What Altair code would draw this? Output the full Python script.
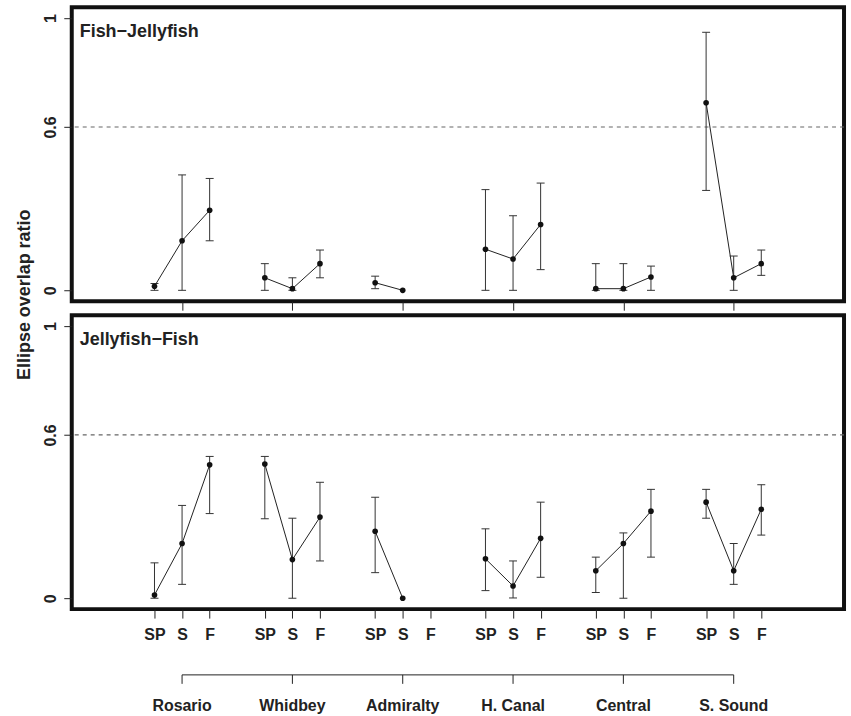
import altair as alt
import pandas as pd

# ---- data ----
REGIONS = ["Rosario", "Whidbey", "Admiralty", "H. Canal", "Central", "S. Sound"]
SEASONS = ["SP", "S", "F"]

# Fish-Jellyfish (top panel): mean, lower, upper per region x season (SP, S, F)
FJ_MEAN = [0.015, 0.182, 0.294,  0.046, 0.006, 0.098,  0.028, 0.0, None,
           0.151, 0.115, 0.242,  0.006, 0.006, 0.049,  0.689, 0.046, 0.098]
FJ_LO   = [0.0, 0.0, 0.182,      0.0, 0.0, 0.046,      0.006, None, None,
           0.0, 0.0, 0.076,      0.0, 0.0, 0.0,        0.367, 0.0, 0.055]
FJ_HI   = [0.025, 0.424, 0.411,  0.098, 0.046, 0.148,  0.052, None, None,
           0.370, 0.274, 0.394,  0.098, 0.098, 0.089,  0.948, 0.126, 0.148]

# Jellyfish-Fish (bottom panel)
JF_MEAN = [0.012, 0.201, 0.490,  0.493, 0.142, 0.298,  0.246, 0.0, None,
           0.145, 0.045, 0.220,  0.101, 0.201, 0.320,  0.353, 0.101, 0.327]
JF_LO   = [0.0, 0.051, 0.311,    0.292, 0.0, 0.137,    0.094, None, None,
           0.028, 0.001, 0.077,  0.021, 0.0, 0.151,    0.294, 0.051, 0.232]
JF_HI   = [0.130, 0.341, 0.521,  0.521, 0.294, 0.426,  0.371, None, None,
           0.255, 0.137, 0.353,  0.151, 0.240, 0.400,  0.400, 0.201, 0.417]

THRESHOLD = [0.6]
Y_TICKS = [0, 0.6, 1]
PANEL_TITLES = ["Fish\u2212Jellyfish", "Jellyfish\u2212Fish"]
Y_TITLE = "Ellipse overlap ratio"

# ---- derived tables ----
positions = [4 * r + s + 1 for r in range(len(REGIONS)) for s in range(len(SEASONS))]
centers = [4 * r + 2 for r in range(len(REGIONS))]


def make_df(mean, lo, hi):
    rows = []
    i = 0
    for r, reg in enumerate(REGIONS):
        for s, sea in enumerate(SEASONS):
            rows.append(dict(region=reg, season=sea, pos=positions[i],
                             v=mean[i], lo=lo[i], hi=hi[i]))
            i += 1
    return pd.DataFrame(rows)


FONT = "Liberation Sans"
W, H = 775, 295
XDOM = [-2, 26]
YDOM = [-0.04, 1.04]

xscale = alt.Scale(domain=XDOM, nice=False, zero=False)
yscale = alt.Scale(domain=YDOM, nice=False, zero=False)


def yaxis(with_title):
    kw = dict(values=Y_TICKS, format="~g", grid=False, domain=False,
              tickSize=8, tickColor="#222", labelAngle=270, labelAlign="center",
              labelBaseline="alphabetic", labelPadding=8, labelFont=FONT,
              labelFontSize=16, labelFontWeight="bold", labelColor="#222")
    if with_title:
        kw.update(title=Y_TITLE, titleFont=FONT, titleFontSize=18,
                  titleFontWeight="bold", titleColor="#222", titleAngle=270,
                  titleAlign="center", titleBaseline="alphabetic",
                  titleX=-42, titleY=288)
    else:
        kw.update(title=None)
    return alt.Axis(**kw)


def panel(df, title, top):
    ya = yaxis(top)
    if top:
        xa = alt.Axis(values=centers, labels=False, domain=False, grid=False,
                      tickSize=9, tickColor="#222", title=None)
    else:
        xa = alt.Axis(values=positions, labelExpr="['','SP','S','F'][datum.value % 4]",
                      domain=False, grid=False, tickSize=9, tickColor="#222",
                      labelPadding=8, labelFont=FONT, labelFontSize=16,
                      labelFontWeight="bold", labelColor="#222", title=None)
    X = alt.X("pos:Q", scale=xscale, axis=xa)
    eb = df.dropna(subset=["lo", "hi"])
    line_df = df.dropna(subset=["v"])

    thr = alt.Chart(pd.DataFrame({"h": THRESHOLD})).mark_rule(
        color="#666", strokeDash=[4, 4], strokeWidth=1.2
    ).encode(y=alt.Y("h:Q", scale=yscale, axis=ya))

    rules = alt.Chart(eb).mark_rule(color="#333", strokeWidth=1).encode(
        x=X, y=alt.Y("lo:Q", scale=yscale, axis=ya), y2="hi:Q")
    cap_lo = alt.Chart(eb).mark_tick(orient="horizontal", size=8, thickness=1,
                                     color="#333", opacity=1).encode(
        x=X, y=alt.Y("lo:Q", scale=yscale, axis=ya))
    cap_hi = alt.Chart(eb).mark_tick(orient="horizontal", size=8, thickness=1,
                                     color="#333", opacity=1).encode(
        x=X, y=alt.Y("hi:Q", scale=yscale, axis=ya))
    line = alt.Chart(line_df).mark_line(color="#222", strokeWidth=1).encode(
        x=X, y=alt.Y("v:Q", scale=yscale, axis=ya), detail="region:N",
        order="pos:Q")
    pts = alt.Chart(line_df).mark_circle(size=32, color="#111", opacity=1).encode(
        x=X, y=alt.Y("v:Q", scale=yscale, axis=ya))
    lab = alt.Chart(pd.DataFrame({"t": [title]})).mark_text(
        align="left", baseline="alphabetic", font=FONT, fontSize=18,
        fontWeight="bold", color="#222"
    ).encode(x=alt.value(8), y=alt.value(30), text="t:N")

    layers = [thr, rules, cap_lo, cap_hi, line, pts, lab]

    if not top:
        cdf = pd.DataFrame({"c": centers, "name": REGIONS})
        bdf = pd.DataFrame({"a": [centers[0]], "b": [centers[-1]]})
        bracket = alt.Chart(bdf).mark_rule(color="#222", strokeWidth=1).encode(
            x=alt.X("a:Q", scale=xscale, axis=xa), x2="b:Q", y=alt.value(H + 66))
        bticks = alt.Chart(cdf).mark_rule(color="#222", strokeWidth=1).encode(
            x=alt.X("c:Q", scale=xscale, axis=xa), y=alt.value(H + 66),
            y2=alt.value(H + 75))
        names = alt.Chart(cdf).mark_text(
            align="center", baseline="alphabetic", font=FONT, fontSize=16,
            fontWeight="bold", color="#222"
        ).encode(x=alt.X("c:Q", scale=xscale, axis=xa), y=alt.value(H + 102),
                 text="name:N")
        layers += [bracket, bticks, names]

    return alt.layer(*layers).properties(width=W, height=H)


top = panel(make_df(FJ_MEAN, FJ_LO, FJ_HI), PANEL_TITLES[0], True)
bot = panel(make_df(JF_MEAN, JF_LO, JF_HI), PANEL_TITLES[1], False)

chart = alt.vconcat(top, bot, spacing=14, bounds="flush").properties(
    padding={"left": 14, "top": 4, "right": 4, "bottom": 2},
    background="white"
).configure_view(stroke="#111", strokeWidth=4)

chart.save("out.html", embed_options={"renderer": "svg", "actions": False})
